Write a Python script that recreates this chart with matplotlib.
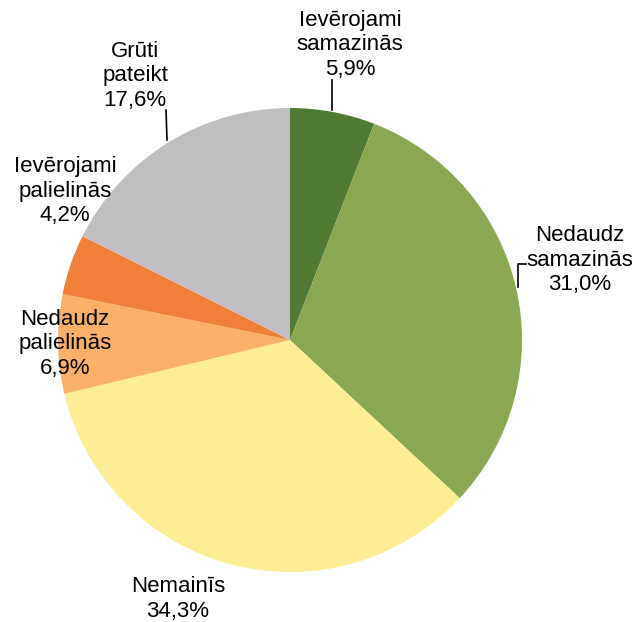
import matplotlib
matplotlib.use("Agg")
import matplotlib.pyplot as plt

plt.rcParams['font.family'] = ['Liberation Sans', 'DejaVu Sans']

# dati
labels = ["Ievērojami\nsamazinās", "Nedaudz\nsamazinās", "Nemainīs",
          "Nedaudz\npalielinās", "Ievērojami\npalielinās", "Grūti\npateikt"]
values = [5.9, 31.0, 34.3, 6.9, 4.2, 17.6]
colors = ["#4f7b35", "#8aa752", "#fdee95", "#fbb06a", "#f07f3a", "#bfbfbf"]

W, H = 638, 622
fig = plt.figure(figsize=(W / 100, H / 100), dpi=100)
ax = fig.add_axes([0, 0, 1, 1])

cx, cy, r = 290, H - 340, 232
ax.pie(values, colors=colors, startangle=90, counterclock=False,
       center=(cx, cy), radius=r, frame=True,
       wedgeprops=dict(linewidth=0))
ax.set_xlim(0, W)
ax.set_ylim(0, H)
ax.set_aspect('equal')
ax.axis('off')

# etiķetes (pikseļos no augšas)
label_pos = [(350, 45), (580, 260), (178, 599), (65, 344), (65, 191), (135, 76)]
for lab, v, (x, y) in zip(labels, values, label_pos):
    txt = lab + "\n" + f"{v:.1f}".replace(".", ",") + "%"
    ax.text(x, H - y, txt, ha='center', va='center', fontsize=16,
            linespacing=1.2)

# līnijas
ax.plot([332, 332], [H - 80, H - 110], color='black', lw=1.2)
ax.plot([526, 518, 518], [H - 264, H - 264, H - 287], color='black', lw=1.2)
ax.plot([166, 167], [H - 110, H - 140], color='black', lw=1.2)

fig.savefig("out.png", dpi=100)
